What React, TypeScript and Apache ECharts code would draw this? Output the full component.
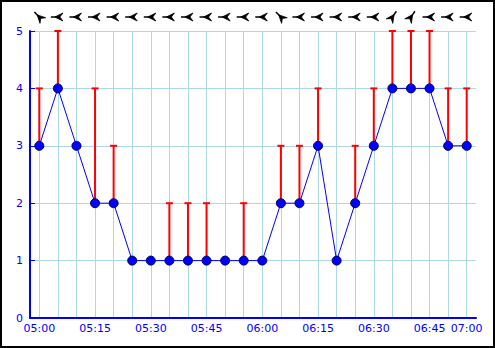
import React, { useEffect, useRef } from "react";
import * as echarts from "echarts";

const categories = [
  "05:00", "05:05", "05:10", "05:15", "05:20", "05:25", "05:30", "05:35",
  "05:40", "05:45", "05:50", "05:55", "06:00", "06:05", "06:10", "06:15",
  "06:20", "06:25", "06:30", "06:35", "06:40", "06:45", "06:50", "07:00",
];
const labelIndices = [0, 3, 6, 9, 12, 15, 18, 21, 23];
const speeds = [3, 4, 3, 2, 2, 1, 1, 1, 1, 1, 1, 1, 1, 2, 2, 3, 1, 2, 3, 4, 4, 4, 3, 3];
const gusts = [4, 5, null, 4, 3, null, null, 2, 2, 2, null, 2, null, 3, 3, 4, null, 3, 4, 5, 5, 5, 4, 4];
const windDirs = [135, 90, 90, 90, 90, 90, 90, 90, 90, 90, 90, 90, 90, 135, 90, 90, 90, 90, 90, 215, 215, 90, 90, 90];
const yTicks = [0, 1, 2, 3, 4, 5];

const BLUE = "#0000ff";
const GRID = "#add8e6";
const FONT = "DejaVu Sans";

export default function App() {
  const ref = useRef<HTMLDivElement>(null);
  useEffect(() => {
    if (!ref.current) return;
    const chart = echarts.init(ref.current, null, { renderer: "svg" });
    const gustData: any[] = [];
    gusts.forEach((g, i) => {
      if (g != null) gustData.push([i, speeds[i], g]);
    });
    const windData = windDirs.map((d, i) => [i, yTicks[yTicks.length - 1], d]);
    const show = new Set(labelIndices);
    chart.setOption({
      animation: false,
      grid: { left: 30, right: 19, top: 31, bottom: 30 },
      xAxis: {
        type: "category",
        data: categories,
        boundaryGap: true,
        axisLine: { lineStyle: { color: BLUE, width: 2 } },
        axisTick: {
          inside: true,
          length: 5,
          alignWithLabel: true,
          interval: 0,
          lineStyle: { color: BLUE, width: 1 },
        },
        axisLabel: {
          interval: (idx: number) => show.has(idx),
          color: BLUE,
          fontSize: 11,
          fontFamily: FONT,
          margin: 5,
          hideOverlap: false,
        },
        splitLine: {
          show: true,
          interval: 0,
          alignWithLabel: true,
          lineStyle: { color: GRID, width: 1 },
        },
      },
      yAxis: {
        type: "value",
        min: yTicks[0],
        max: yTicks[yTicks.length - 1],
        interval: 1,
        axisLine: { show: true, lineStyle: { color: BLUE, width: 2 } },
        axisTick: { show: true, inside: true, length: 5, lineStyle: { color: BLUE } },
        axisLabel: { color: BLUE, fontSize: 11, fontFamily: FONT, margin: 7 },
        splitLine: { show: true, lineStyle: { color: GRID, width: 1 } },
      },
      graphic: [
        {
          type: "rect",
          shape: { x: 1, y: 1, width: 493, height: 346 },
          style: { fill: "none", stroke: "#000", lineWidth: 2 },
          silent: true,
        },
      ],
      series: [
        {
          type: "custom",
          z: 2,
          clip: false,
          data: gustData,
          encode: { x: 0, y: [1, 2] },
          renderItem: (params: any, api: any) => {
            const base = api.coord([api.value(0), api.value(1)]);
            const top = api.coord([api.value(0), api.value(2)]);
            return {
              type: "group",
              children: [
                {
                  type: "line",
                  shape: { x1: base[0], y1: base[1], x2: top[0], y2: top[1] },
                  style: { stroke: "#ff0000", lineWidth: 2 },
                },
                {
                  type: "line",
                  shape: { x1: top[0] - 3.5, y1: top[1], x2: top[0] + 3.5, y2: top[1] },
                  style: { stroke: "#ff0000", lineWidth: 2 },
                },
              ],
            };
          },
        },
        {
          type: "custom",
          z: 3,
          clip: false,
          data: windData,
          encode: { x: 0, y: 1 },
          renderItem: (params: any, api: any) => {
            const p = api.coord([api.value(0), api.value(1)]);
            const cx = p[0];
            const cy = p[1] - 14;
            const d = (api.value(2) * Math.PI) / 180;
            const ux = Math.sin(d);
            const uy = -Math.cos(d);
            const vx = -uy;
            const vy = ux;
            const pt = (a: number, b: number) => [cx + ux * a + vx * b, cy + uy * a + vy * b];
            const s1 = pt(-7, 0);
            const s2 = pt(-1, 0);
            return {
              type: "group",
              children: [
                {
                  type: "line",
                  shape: { x1: s1[0], y1: s1[1], x2: s2[0], y2: s2[1] },
                  style: { stroke: "#000", lineWidth: 1.5 },
                },
                {
                  type: "polygon",
                  shape: { points: [pt(-3, 0), pt(5, 4), pt(2, 0), pt(5, -4)] },
                  style: { fill: "#000", stroke: "#000", lineWidth: 0.8 },
                },
              ],
            };
          },
        },
        {
          type: "line",
          z: 5,
          data: speeds,
          symbol: "circle",
          symbolSize: 9,
          lineStyle: { color: BLUE, width: 1 },
          itemStyle: { color: BLUE, borderColor: "#000050", borderWidth: 1 },
        },
      ],
    });
    return () => chart.dispose();
  }, []);
  return (
    <div
      ref={ref}
      style={{ position: "fixed", left: 0, top: 0, width: 495, height: 348, background: "#fff" }}
    />
  );
}
